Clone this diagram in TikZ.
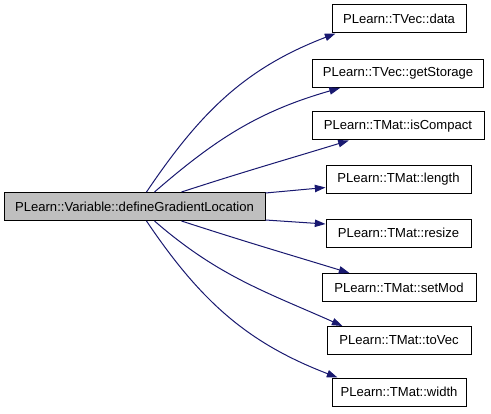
\documentclass[tikz,border=0pt]{standalone}
\usepackage{fontspec}
\setmainfont{Liberation Sans}
\usepackage{xcolor}
\usetikzlibrary{arrows.meta,positioning}
\definecolor{edgeblue}{HTML}{191970}
\definecolor{mainfill}{HTML}{BFBFBF}

\begin{document}
\begin{tikzpicture}[
    x=0.75pt, y=0.75pt,
    fn/.style={draw, rectangle, minimum height=21pt, inner xsep=2pt, font=\fontsize{9.8pt}{11pt}\selectfont, line width=0.75pt, fill=white},
    call/.style={-{Triangle[length=8pt, width=5.5pt]}, edgeblue, line width=0.75pt},
]
    \useasboundingbox (0,0) rectangle (491,-413);

    % Caller
    \node [fn, fill=mainfill, minimum width=195.75pt] (main) at (134.5,-206.5) {PLearn::Variable::defineGradientLocation};

    % Callees
    \node [fn, minimum width=100.5pt] (data) at (399,-19) {PLearn::TVec::data};
    \node [fn, minimum width=128.25pt] (storage) at (398,-73.5) {PLearn::TVec::getStorage};
    \node [fn, minimum width=129pt] (compact) at (398,-126) {PLearn::TMat::isCompact};
    \node [fn, minimum width=108.75pt] (length) at (398.5,-179.5) {PLearn::TMat::length};
    \node [fn, minimum width=108.75pt] (resize) at (398.5,-233) {PLearn::TMat::resize};
    \node [fn, minimum width=115.5pt] (setmod) at (399,-287.5) {PLearn::TMat::setMod};
    \node [fn, minimum width=108pt] (tovec) at (399,-340.5) {PLearn::TMat::toVec};
    \node [fn, minimum width=100.5pt] (width) at (399,-392) {PLearn::TMat::width};

    % Upper calls
    \draw [call] ([xshift=107.25pt]main.north west) to[out=56, in=201] ([xshift=3pt]data.south west);
    \draw [call] ([xshift=113.25pt]main.north west) to[out=41, in=196] ([xshift=21pt]storage.south west);
    \draw [call] ([xshift=133.5pt]main.north west) to[out=18, in=197] ([xshift=28pt]compact.south west);
    \draw [call] ([yshift=-0.75pt]main.north east) -- ([yshift=-6pt]length.west);

    % Lower calls
    \draw [call] ([yshift=0.75pt]main.south east) -- ([yshift=6.75pt]resize.west);
    \draw [call] ([xshift=133.5pt]main.south west) to[out=-18, in=163] ([xshift=21pt]setmod.north west);
    \draw [call] ([xshift=113.25pt]main.south west) to[out=-41, in=156] ([xshift=12pt]tovec.north west);
    \draw [call] ([xshift=107.25pt]main.south west) to[out=-56, in=159] ([xshift=4.5pt]width.north west);
\end{tikzpicture}
\end{document}
